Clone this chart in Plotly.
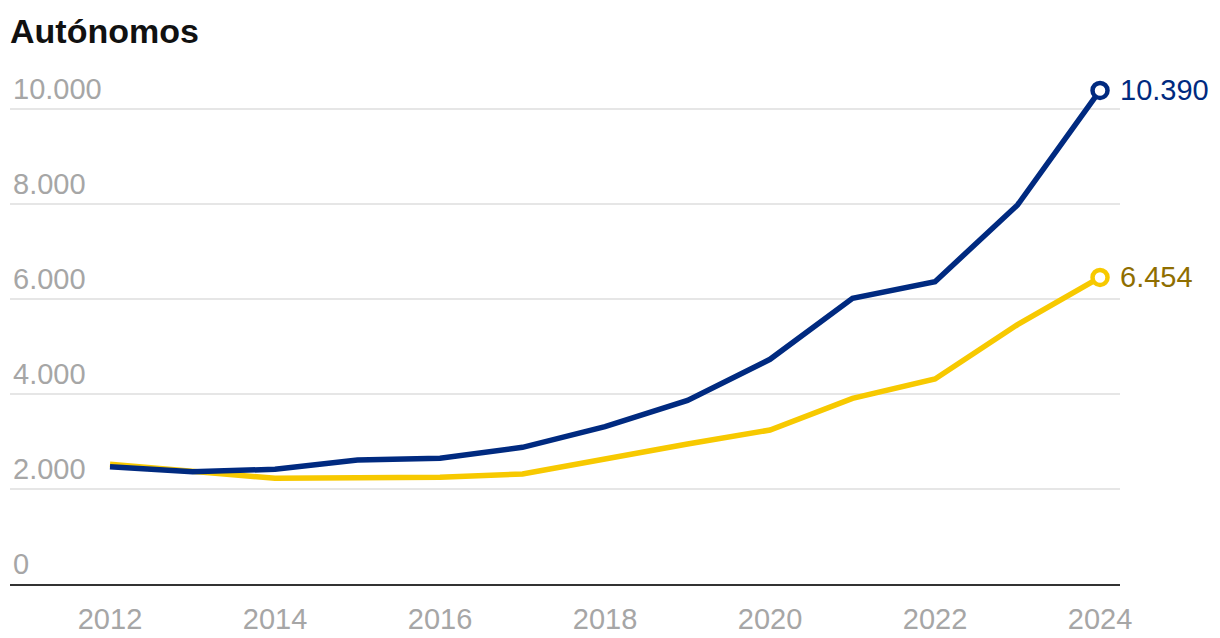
import plotly.graph_objects as go

years = list(range(2012, 2025))
azul = [2470, 2364, 2415, 2610, 2646, 2877, 3312, 3865, 4730, 6014, 6364, 7979, 10390]
amarillo = [2520, 2380, 2225, 2238, 2246, 2316, 2646, 2947, 3242, 3909, 4316, 5460, 6454]
etiquetas_fin = ["10.390", "6.454"]
y_ticks = [0, 2000, 4000, 6000, 8000, 10000]
y_labels = ["0", "2.000", "4.000", "6.000", "8.000", "10.000"]
x_ticks = [2012, 2014, 2016, 2018, 2020, 2022, 2024]

AZUL = "#002a80"
AMARILLO = "#f7c900"
ORO = "#8f6e00"
GRIS = "#a6a6a6"
FONT = "Liberation Sans"

fig = go.Figure()
for vals, col in [(amarillo, AMARILLO), (azul, AZUL)]:
    fig.add_trace(go.Scatter(x=years, y=vals, mode="lines",
                             line=dict(color=col, width=5.5), hoverinfo="skip"))
    fig.add_trace(go.Scatter(x=[years[-1]], y=[vals[-1]], mode="markers",
                             marker=dict(symbol="circle", size=15, color="white",
                                         line=dict(color=col, width=4.5)),
                             hoverinfo="skip"))

for vals, txt, col in [(azul, etiquetas_fin[0], AZUL), (amarillo, etiquetas_fin[1], ORO)]:
    fig.add_annotation(x=years[-1], y=vals[-1], text=txt, showarrow=False,
                       xanchor="left", yanchor="middle", xshift=18,
                       font=dict(family=FONT, size=29, color=col))

fig.add_annotation(x=0, y=1, xref="paper", yref="paper", xanchor="left", yanchor="bottom",
                   text="<b>Autónomos</b>", showarrow=False, yshift=8, xshift=-2,
                   font=dict(family=FONT, size=34, color="#111111"))

fig.update_layout(
    width=1220, height=638,
    margin=dict(l=2, r=108, t=52, b=62, pad=0),
    paper_bgcolor="white", plot_bgcolor="white",
    showlegend=False,
    xaxis=dict(range=[2010.788, 2024.242], tickvals=x_ticks, showgrid=False,
               showline=True, linecolor="#333333", linewidth=2, zeroline=False,
               ticks="", ticklabelstandoff=8,
               tickfont=dict(family=FONT, size=29, color=GRIS)),
    yaxis=dict(range=[0, 11031], tickvals=y_ticks, ticktext=y_labels,
               showgrid=True, gridcolor="#e6e6e6", gridwidth=2, zeroline=False,
               ticklabelposition="inside", ticklabelshift=-20, ticklabelstandoff=0,
               tickfont=dict(family=FONT, size=29, color=GRIS)),
)
fig.write_html("out.html")
